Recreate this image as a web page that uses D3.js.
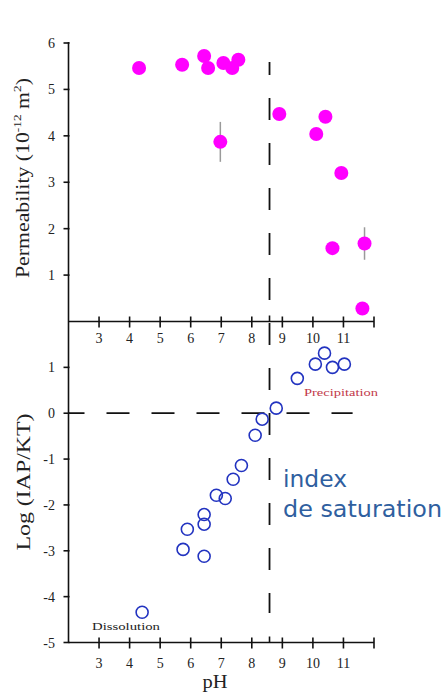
<!DOCTYPE html>
<html>
<head>
<meta charset="utf-8">
<script src="https://cdn.jsdelivr.net/npm/d3@7"></script>
<style>
  html, body { margin: 0; padding: 0; background: #fff; }
  svg { display: block; }
</style>
</head>
<body>
<svg id="chart" width="444" height="693"></svg>
<script>
// ---- data ----
const permPH  = [4.31, 5.72, 6.44, 6.57, 7.07, 7.36, 7.56, 6.97, 8.90, 10.41, 10.11, 10.93, 10.64, 11.69, 11.62];
const permVal = [5.46, 5.53, 5.72, 5.46, 5.57, 5.46, 5.64, 3.87, 4.47, 4.41, 4.04, 3.20, 1.58, 1.68, 0.28];
const permErr = [0, 0, 0, 0, 0, 0, 0, 0.43, 0, 0, 0, 0, 0, 0.35, 0];

const siPH  = [4.41, 5.75, 5.89, 6.44, 6.44, 6.44, 6.84, 7.13, 7.39, 7.66, 8.11, 8.34, 8.80, 9.49, 10.08, 10.38, 10.64, 11.03];
const siVal = [-4.34, -2.97, -2.53, -3.12, -2.42, -2.21, -1.79, -1.86, -1.44, -1.14, -0.48, -0.13, 0.11, 0.76, 1.07, 1.31, 1.00, 1.07];

const xTicks = [3, 4, 5, 6, 7, 8, 9, 10, 11];
const permTicks = [1, 2, 3, 4, 5, 6];
const siTicks = [-5, -4, -3, -2, -1, 0, 1];
const saturationPH = 8.58;
const dashEndPH = 11.3;

// ---- layout ----
const svg = d3.select("#chart");
const serif = "'Liberation Serif', 'Times New Roman', Times, serif";

const x = d3.scaleLinear().domain([2, 12]).range([68.5, 374]);
const yTop = d3.scaleLinear().domain([0, 6]).range([321.5, 43]);
const yBot = d3.scaleLinear().domain([-5, 2]).range([642.5, 321.5]);

const axisG = svg.append("g").attr("stroke", "#111").attr("stroke-width", 1.6);

// y axis line (both panels)
axisG.append("line").attr("x1", x(2)).attr("x2", x(2)).attr("y1", yTop(6) - 1).attr("y2", yBot(-5));
// x axes
[yTop(0), yBot(-5)].forEach(yy => {
  axisG.append("line").attr("x1", x(2)).attr("x2", x(12)).attr("y1", yy).attr("y2", yy);
  xTicks.concat([12]).forEach(t => {
    axisG.append("line").attr("x1", x(t)).attr("x2", x(t)).attr("y1", yy - 5).attr("y2", yy + 6);
  });
  axisG.append("line").attr("x1", x(saturationPH)).attr("x2", x(saturationPH)).attr("y1", yy - 6).attr("y2", yy);
});

// y ticks
permTicks.forEach(t => {
  axisG.append("line").attr("x1", x(2) - 5).attr("x2", x(2) + 1).attr("y1", yTop(t)).attr("y2", yTop(t));
});
siTicks.forEach(t => {
  axisG.append("line").attr("x1", x(2) - 5).attr("x2", x(2) + 1).attr("y1", yBot(t)).attr("y2", yBot(t));
});

// tick labels
const tl = svg.append("g").attr("font-family", serif).attr("font-size", 14).attr("fill", "#222");
xTicks.forEach(t => {
  tl.append("text").attr("x", x(t)).attr("y", yTop(0) + 21).attr("text-anchor", "middle").text(t);
  tl.append("text").attr("x", x(t)).attr("y", yBot(-5) + 25).attr("text-anchor", "middle").text(t);
});
permTicks.forEach(t => {
  tl.append("text").attr("x", 55).attr("y", yTop(t) + 5).attr("text-anchor", "end").text(t);
});
siTicks.forEach(t => {
  tl.append("text").attr("x", 55).attr("y", yBot(t) + 5).attr("text-anchor", "end").text(t);
});

// axis titles
const permLabel = svg.append("text")
  .attr("transform", "translate(29,178) rotate(-90)")
  .attr("text-anchor", "middle")
  .attr("font-family", serif).attr("font-size", 18).attr("fill", "#222")
  .attr("textLength", 200).attr("lengthAdjust", "spacingAndGlyphs");
permLabel.append("tspan").text("Permeability (10");
permLabel.append("tspan").attr("font-size", 11).attr("dy", -8).text("-12");
permLabel.append("tspan").attr("dy", 8).text(" m");
permLabel.append("tspan").attr("font-size", 11).attr("dy", -8).text("2");
permLabel.append("tspan").attr("dy", 8).text(")");

svg.append("text")
  .attr("transform", "translate(30,482) rotate(-90)")
  .attr("text-anchor", "middle")
  .attr("font-family", serif).attr("font-size", 18).attr("fill", "#222")
  .attr("textLength", 137).attr("lengthAdjust", "spacingAndGlyphs")
  .text("Log (IAP/KT)");

svg.append("text")
  .attr("x", 215).attr("y", 688)
  .attr("text-anchor", "middle")
  .attr("font-family", serif).attr("font-size", 18).attr("fill", "#222")
  .attr("textLength", 25).attr("lengthAdjust", "spacingAndGlyphs")
  .text("pH");

// dashed reference lines
svg.append("line")
  .attr("x1", x(saturationPH)).attr("x2", x(saturationPH))
  .attr("y1", 62).attr("y2", 613)
  .attr("stroke", "#111").attr("stroke-width", 1.8)
  .attr("stroke-dasharray", "22,23").attr("stroke-dashoffset", 9);

svg.append("line")
  .attr("x1", x(2)).attr("x2", x(dashEndPH))
  .attr("y1", yBot(0)).attr("y2", yBot(0))
  .attr("stroke", "#111").attr("stroke-width", 1.8)
  .attr("stroke-dasharray", "23,22").attr("stroke-dashoffset", 7);

// permeability points
const perm = permPH.map((p, i) => ({ ph: p, v: permVal[i], e: permErr[i] }));
svg.append("g").selectAll("line").data(perm.filter(d => d.e > 0)).join("line")
  .attr("x1", d => x(d.ph)).attr("x2", d => x(d.ph))
  .attr("y1", d => yTop(d.v + d.e)).attr("y2", d => yTop(d.v - d.e))
  .attr("stroke", "#9a9a9a").attr("stroke-width", 1.5);
svg.append("g").selectAll("circle").data(perm).join("circle")
  .attr("cx", d => x(d.ph)).attr("cy", d => yTop(d.v)).attr("r", 7)
  .attr("fill", "#ff00ff");

// saturation index points
const si = siPH.map((p, i) => ({ ph: p, v: siVal[i] }));
svg.append("g").selectAll("circle").data(si).join("circle")
  .attr("cx", d => x(d.ph)).attr("cy", d => yBot(d.v)).attr("r", 6)
  .attr("fill", "none").attr("stroke", "#2233c0").attr("stroke-width", 1.6);

// annotations
svg.append("text")
  .attr("x", 304).attr("y", 396)
  .attr("font-family", serif).attr("font-size", 11).attr("fill", "#c23a4a")
  .attr("textLength", 74).attr("lengthAdjust", "spacingAndGlyphs")
  .text("Precipitation");

svg.append("text")
  .attr("x", 92).attr("y", 630)
  .attr("font-family", serif).attr("font-size", 11).attr("fill", "#222")
  .attr("textLength", 68).attr("lengthAdjust", "spacingAndGlyphs")
  .text("Dissolution");

const sat = svg.append("g").attr("font-family", "'DejaVu Sans', sans-serif")
  .attr("font-size", 23).attr("fill", "#2f5f9f");
sat.append("text").attr("x", 283).attr("y", 487)
  .attr("textLength", 64).attr("lengthAdjust", "spacingAndGlyphs").text("index");
sat.append("text").attr("x", 283).attr("y", 517)
  .attr("textLength", 159).attr("lengthAdjust", "spacingAndGlyphs").text("de saturation");
</script>
</body>
</html>
